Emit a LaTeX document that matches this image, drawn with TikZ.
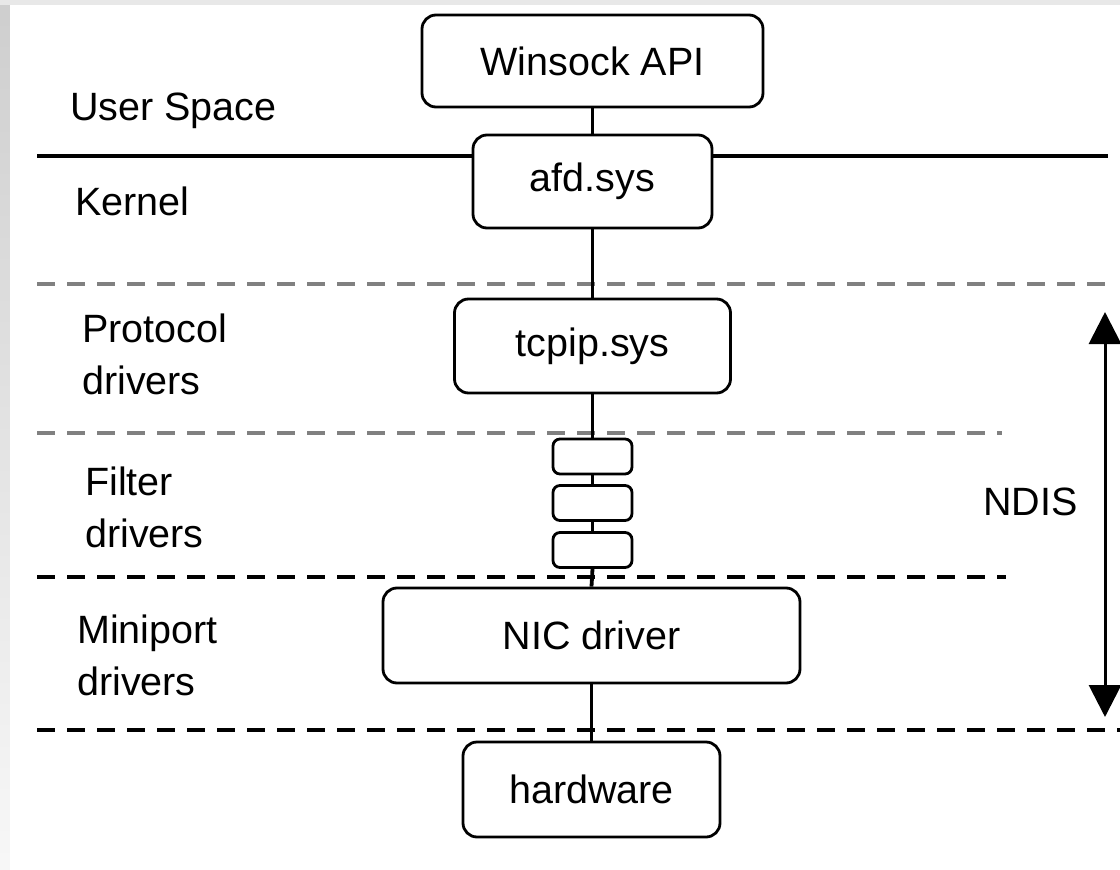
\documentclass[tikz,border=0pt]{standalone}
\usepackage{fontspec}
\setmainfont{Liberation Sans}
\usetikzlibrary{arrows.meta}

\begin{document}
\begin{tikzpicture}[x=1pt,y=-1pt,
        box/.style={draw, line width=2.8pt, rounded corners=14pt, inner sep=0pt},
        layer/.style={anchor=base west, align=left, inner sep=0pt},
        link/.style={line width=3.8pt},
        sep/.style={line width=3.8pt, dash pattern=on 18pt off 12pt}]
        \definecolor{sepgray}{gray}{0.5}
        \fontsize{39.5}{52}\selectfont

        % background frame
        \fill[gray!18] (0,0) rectangle (1120,870);
        \shade[top color=gray!38, bottom color=gray!6] (0,5) rectangle (10,870);
        \fill[white] (10,5) rectangle (1120,870);
        \useasboundingbox (0,0) rectangle (1120,870);

        % layer separators
        \draw[sep, sepgray, line width=3.2pt] (37,284) -- (1108,284);
        \draw[sep, sepgray, line width=3.2pt] (37,433) -- (1002,433);
        \draw[sep] (37,577) -- (1006,577);
        \draw[sep] (37,730) -- (1120,730);

        % boxes
        \node[box, minimum width=341pt, minimum height=92pt] (winsock) at (592.5,61) {Winsock API};
        \node[box, minimum width=239pt, minimum height=93pt] (afd) at (592.5,181.5) {afd.sys};
        \node[box, minimum width=276pt, minimum height=94pt] (tcpip) at (592.5,346) {tcpip.sys};
        \node[box, rounded corners=7pt, minimum width=79pt, minimum height=35pt] (filtA) at (592.5,456.5) {};
        \node[box, rounded corners=7pt, minimum width=79pt, minimum height=35pt] (filtB) at (592.5,503) {};
        \node[box, rounded corners=7pt, minimum width=79pt, minimum height=35pt] (filtC) at (592.5,550) {};
        \node[box, minimum width=417pt, minimum height=95pt] (nic) at (591.5,635.5) {NIC driver};
        \node[box, minimum width=257pt, minimum height=95pt] (hw) at (591.5,789.5) {hardware};

        % user/kernel boundary
        \coordinate (ukL) at (37,156);
        \coordinate (ukR) at (1108,156);
        \draw[link] (ukL) -- (ukL -| afd.west);
        \draw[link] (ukR -| afd.east) -- (ukR);

        % stack links
        \draw[link] (winsock.south) -- (afd.north);
        \draw[link] (afd.south) -- (tcpip.north);
        \draw[link] (tcpip.south) -- (filtA.north);
        \draw[link] (filtA.south) -- (filtB.north);
        \draw[link] (filtB.south) -- (filtC.north);
        \draw[link] (filtC.south) -- (nic.north);
        \draw[link] (nic.south) -- (hw.north);

        % layer labels (base = last line)
        \node[layer] (user) at (70,120) {User Space};
        \node[layer] (kern) at (75,215) {Kernel};
        \node[layer] (proto) at (82,394) {Protocol\\drivers};
        \node[layer] (filt) at (85,547) {Filter\\drivers};
        \node[layer] (mini) at (77,695) {Miniport\\drivers};

        % NDIS span
        \coordinate (ndisT) at (1105,312);
        \coordinate (ndisB) at (1105,717);
        \draw[line width=3pt, {Triangle[width=32pt,length=32pt]}-{Triangle[width=32pt,length=32pt]}] (ndisT) -- (ndisB);
        \node[anchor=base east, inner sep=0pt] (ndis) at (1078,515) {NDIS};
\end{tikzpicture}
\end{document}
